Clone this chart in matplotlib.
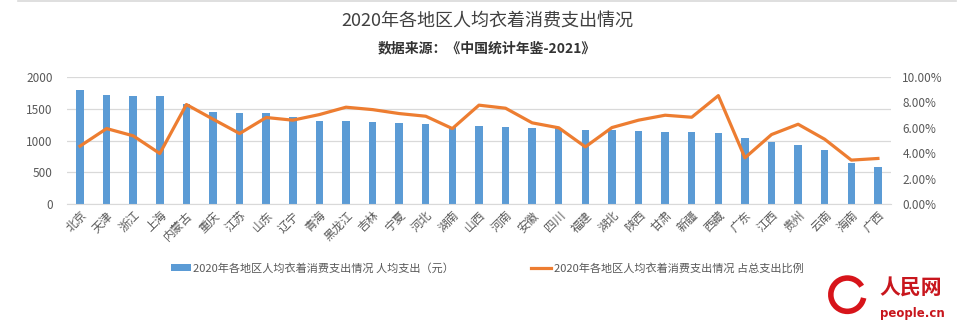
# coding: utf-8
import numpy as np
import matplotlib
matplotlib.use("Agg")
import matplotlib.pyplot as plt
from matplotlib.ticker import FuncFormatter, MultipleLocator
from matplotlib.patches import Arc

plt.rcParams['font.family'] = ['Noto Sans CJK SC', 'DejaVu Sans']

regions = ['北京', '天津', '浙江', '上海', '内蒙古', '重庆', '江苏', '山东', '辽宁', '青海',
           '黑龙江', '吉林', '宁夏', '河北', '湖南', '山西', '河南', '安徽', '四川', '福建',
           '湖北', '陕西', '甘肃', '新疆', '西藏', '广东', '江西', '贵州', '云南', '海南', '广西']
spend = [1800, 1710, 1695, 1695, 1568, 1453, 1437, 1437, 1374, 1300,
         1300, 1284, 1268, 1253, 1210, 1232, 1216, 1200, 1190, 1168,
         1168, 1153, 1137, 1137, 1121, 1042, 984, 932, 853, 647, 584]
share = [4.56, 5.94, 5.37, 3.98, 7.83, 6.68, 5.55, 6.81, 6.60, 7.04,
         7.62, 7.43, 7.12, 6.91, 5.94, 7.78, 7.54, 6.39, 6.00, 4.50,
         6.02, 6.60, 6.99, 6.83, 8.53, 3.64, 5.47, 6.28, 5.10, 3.46, 3.59]

blue = '#5B9BD5'
orange = '#ED7D31'
grey = '#595959'

fig = plt.figure(figsize=(9.74, 3.33), dpi=100)
ax = fig.add_axes([0.0685, 0.387, 0.8465, 0.382])
x = np.arange(len(regions))
bars = ax.bar(x, spend, width=0.28, color=blue, zorder=2,
              label='2020年各地区人均衣着消费支出情况 人均支出（元）')
ax.set_ylim(0, 2000)
ax.set_xlim(-0.5, len(regions) - 0.5)
ax.yaxis.set_major_locator(MultipleLocator(500))
ax.grid(axis='y', color='#D9D9D9', lw=0.9, zorder=0)
for s in ['top', 'right', 'left']:
    ax.spines[s].set_visible(False)
ax.spines['bottom'].set_color('#D9D9D9')
ax.tick_params(axis='both', length=0, colors=grey, labelsize=8.5)
ax.tick_params(axis='y', pad=10)
ax.set_xticks(x)
ax.set_xticklabels(regions, rotation=45, ha='right', rotation_mode='anchor',
                   fontsize=8.5, fontweight='light')

ax2 = ax.twinx()
line, = ax2.plot(x, share, color=orange, lw=2.3, zorder=3,
                 label='2020年各地区人均衣着消费支出情况 占总支出比例')
ax2.set_ylim(0, 10)
ax2.yaxis.set_major_locator(MultipleLocator(2))
ax2.yaxis.set_major_formatter(FuncFormatter(lambda v, p: '%.2f%%' % v))
for s in ax2.spines.values():
    s.set_visible(False)
ax2.tick_params(axis='y', length=0, colors=grey, labelsize=8.5, pad=8)

fig.text(0.5, 0.935, '2020年各地区人均衣着消费支出情况', ha='center', va='center',
         fontsize=13, color='#404040')
fig.text(0.5, 0.855, '数据来源：《中国统计年鉴-2021》', ha='center', va='center',
         fontsize=10, fontweight='bold', color='#333333')

fig.legend(handles=[bars, line], loc='center', bbox_to_anchor=(0.5, 0.195), ncol=2,
           frameon=False, fontsize=8, labelcolor=grey, columnspacing=7,
           handlelength=1.8, handletextpad=0.2)

# top border
fig.add_artist(plt.Line2D([0.018, 0.982], [0.997, 0.997], color='#D9D9D9', lw=1.2))

# logo
fig.add_artist(Arc((0.87, 0.115), 0.034, 0.1, theta1=60, theta2=330, color='#D7141A', lw=4))
fig.text(0.935, 0.135, '人民网', ha='center', va='center', fontsize=15,
         fontweight='bold', color='#C8161D', style='italic')
fig.text(0.937, 0.06, 'people.cn', ha='center', va='center', fontsize=8.5,
         fontweight='bold', color='#C8161D', family=['DejaVu Sans'])

fig.savefig('out.png', dpi=100)
